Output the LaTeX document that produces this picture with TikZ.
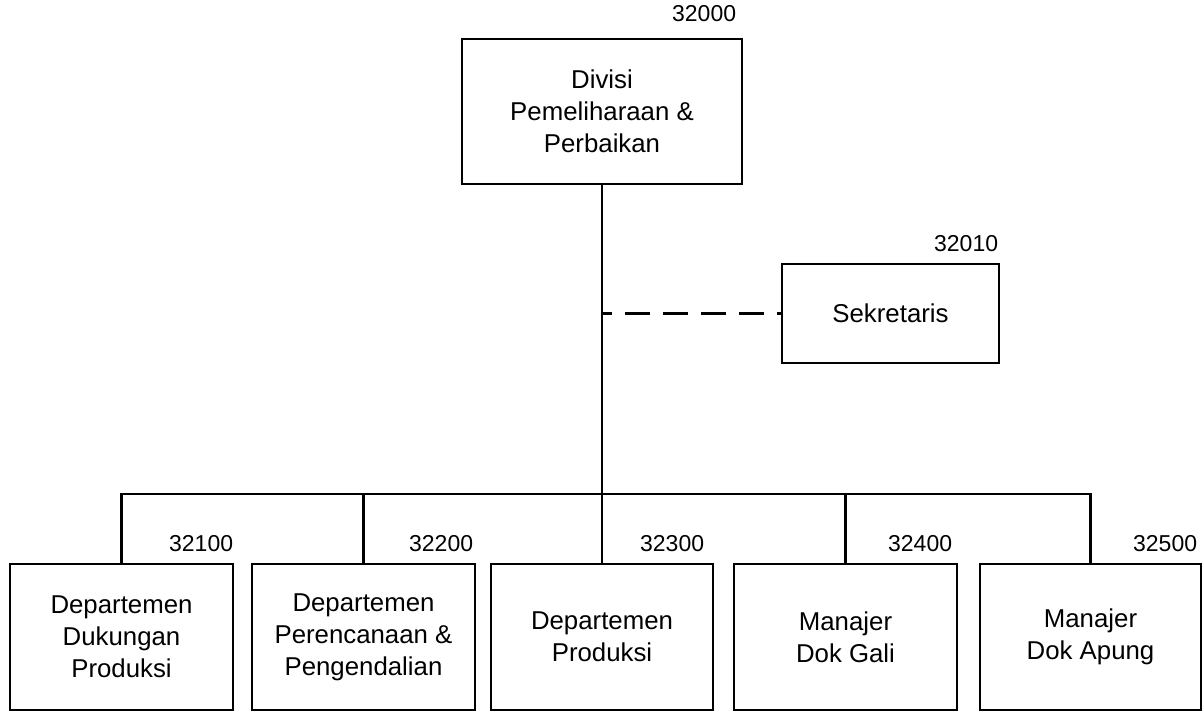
\documentclass[tikz,border=0pt]{standalone}
\usepackage{fontspec}
\setmainfont{Liberation Sans}
\usepackage{tikz}
\tikzstyle{unit} = [draw,line width=2.6pt,align=center,inner sep=0pt,font=\fontsize{25.8}{32}\selectfont]
\tikzstyle{code} = [inner sep=0pt,anchor=base east,font=\fontsize{23}{26}\selectfont]
\tikzstyle{link} = [line width=2.6pt]

\begin{document}
\begin{tikzpicture}[x=1pt,y=-1pt]
        \useasboundingbox (0,0) rectangle (1204,712);
        \node[unit,minimum width=280pt,minimum height=145pt] at (602,111.5) (div) {Divisi\\Pemeliharaan \&\\Perbaikan};
        \node[unit,minimum width=217pt,minimum height=99pt] at (890.5,313.5) (sek) {Sekretaris};
        \node[unit,minimum width=223pt,minimum height=146pt] at (121.5,637) (d1) {Departemen\\Dukungan\\Produksi};
        \node[unit,minimum width=223pt,minimum height=146pt] at (363.5,637) (d2) {Departemen\\Perencanaan \&\\Pengendalian};
        \node[unit,minimum width=222pt,minimum height=146pt] at (602,637) (d3) {Departemen\\Produksi};
        \node[unit,minimum width=223pt,minimum height=146pt] at (845.5,637) (d4) {Manajer\\Dok Gali};
        \node[unit,minimum width=221pt,minimum height=146pt] at (1090.5,637) (d5) {Manajer\\Dok Apung};
        \coordinate (bus) at (602,494);

        \node[code] at ([shift={(-7pt,16pt)}]div.north east) (k32000) {32000};
        \node[code] at ([shift={(-2pt,11pt)}]sek.north east) (k32010) {32010};
        \node[code] at ([shift={(-1pt,11pt)}]d1.north east) (k32100) {32100};
        \node[code] at ([shift={(-3pt,11pt)}]d2.north east) (k32200) {32200};
        \node[code] at ([shift={(-10pt,11pt)}]d3.north east) (k32300) {32300};
        \node[code] at ([shift={(-6pt,11pt)}]d4.north east) (k32400) {32400};
        \node[code] at ([shift={(-5pt,11pt)}]d5.north east) (k32500) {32500};

        \draw[link] (div.south) -- (d3.north);
        \draw[link] (d1.north) |- (bus -| d5.north) -- (d5.north);
        \draw[link] (d2.north) -- (d2.north |- bus);
        \draw[link] (d4.north) -- (d4.north |- bus);
        \draw[link,dash pattern=on 25pt off 13pt,dash phase=15pt] (sek.west -| div.south) -- (sek.west);
\end{tikzpicture}
\end{document}
